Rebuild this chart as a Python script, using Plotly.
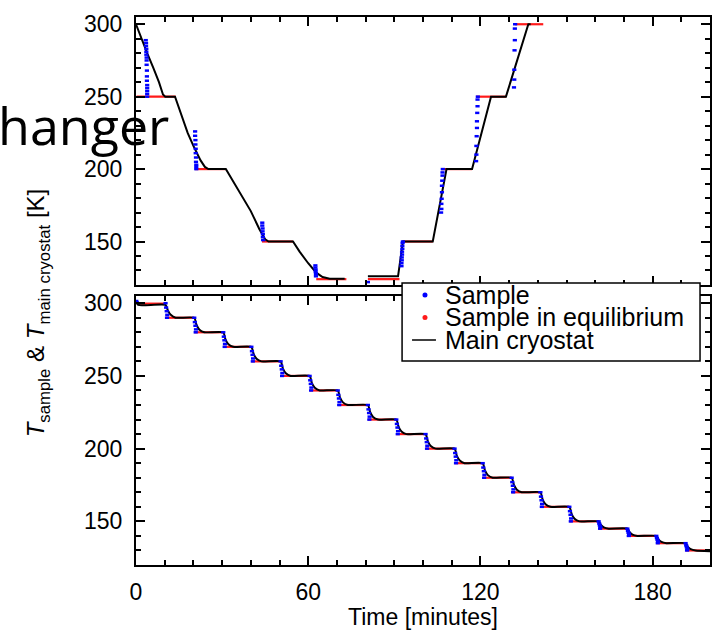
import plotly.graph_objects as go

# ---------------- data ----------------
# Top panel (large 50 K steps, cooling then warming)
top_cryo_time = [0, 2, 4, 6, 8, 9.4, 10.2, 13.6, 16, 18, 20, 22.5, 24.0, 25.2, 31.3, 34, 37, 40, 43, 45.0, 46.2,
                 54.7, 57, 60, 62.8, 65, 67.5, 72.7, None,
                 80.8, 91.3, 93.0, 103.4, 108.2, 117.1, 123.7, 128.9, 136.7, 137.5]
top_cryo_temp = [300, 289, 279.5, 270, 260, 251.5, 250, 250, 236, 225, 216, 206, 201.5, 200, 200, 191, 181, 171, 158.5, 151.5, 150,
                 150, 143, 135, 128.5, 125.5, 124.3, 124.3, None,
                 126, 126, 150, 150, 200, 200, 250, 250, 300, 300]

top_eq_start = [0.2, 20.5, 43.9, 62.8, 80.8, 93.0, 106.3, 118.5, 132.1]
top_eq_end = [13.8, 31.3, 54.7, 73.3, 91.8, 103.4, 117.1, 128.9, 141.9]
top_eq_level = [250, 200, 150, 124, 124, 150, 200, 250, 300]

top_sample_time = [3.4, 3.5, 3.5, 3.6, 3.6, 3.6, 3.7, 3.7, 3.7, 3.8, 3.8, 3.8, 3.9, 3.9, 3.9, 3.9, 3.9,
                   20.6, 20.6, 20.7, 20.7, 20.8, 20.8, 20.9, 20.9, 21.0, 21.0, 21.0,
                   44.0, 44.0, 44.1, 44.1, 44.2, 44.2, 44.3,
                   62.5, 62.5, 62.6, 62.6, 62.7, 62.7,
                   80.8,
                   92.5, 92.5, 92.6, 92.6, 92.7, 92.7, 92.8, 92.8, 92.9, 93.0,
                   106.3, 106.4, 106.4, 106.5, 106.6, 106.6, 106.7, 106.8, 106.8, 106.9,
                   118.5, 118.6, 118.6, 118.7, 118.8, 118.8, 118.9, 119.0, 119.0, 119.1,
                   131.7, 131.8, 131.8, 131.9, 132.0, 132.0, 132.1]
top_sample_temp = [289, 287, 285, 283, 281, 279, 277, 275, 272, 268, 264, 261, 258, 256, 254, 252, 250,
                   226, 223, 220, 217, 214, 211, 208, 205, 203, 201.5, 200,
                   163, 161, 159, 157, 155, 153, 151,
                   133.5, 132, 130.5, 129, 127.5, 126,
                   122,
                   133, 135, 137, 139, 141, 143, 145, 147, 149, 150,
                   170, 172.5, 176, 179.5, 184, 188.5, 192, 195.5, 197.7, 200,
                   205.5, 210, 216, 222.7, 228.4, 233, 238.8, 243.4, 248, 250,
                   256.4, 261.8, 268.6, 282, 289, 297, 300]

# Bottom panel (small 10 K / 5 K steps, cooling)
bot_cryo_time = [0, 0.8,
                 10.3, 11.1, 12.1, 13.8,
                 20.3, 21.1, 22.1, 23.8,
                 30.4, 31.2, 32.2, 33.9,
                 40.2, 41.0, 42.0, 43.7,
                 50.4, 51.2, 52.2, 53.9,
                 60.5, 61.3, 62.3, 64.0,
                 70.3, 71.1, 72.1, 73.8,
                 80.8, 81.6, 82.6, 84.3,
                 90.7, 91.5, 92.5, 94.2,
                 100.9, 101.7, 102.7, 104.4,
                 111.0, 111.8, 112.8, 114.5,
                 120.8, 121.6, 122.6, 124.3,
                 130.9, 131.7, 132.7, 134.4,
                 140.9, 141.7, 142.7, 144.4,
                 151.0, 151.8, 152.8, 154.5,
                 161.2, 162.0, 163.0, 164.7,
                 171.2, 172.0, 173.0, 174.7,
                 181.3, 182.1, 183.1, 184.8,
                 191.5, 192.3, 193.3, 195.0,
                 200]
bot_cryo_temp = [301, 298.8,
                 298.8, 295, 292, 290,
                 290, 285, 281.8, 280,
                 280, 275, 271.8, 270,
                 270, 265, 261.8, 260,
                 260, 255, 251.8, 250,
                 250, 245, 241.8, 240,
                 240, 235, 231.8, 230,
                 230, 225, 221.8, 220,
                 220, 215, 211.8, 210,
                 210, 205, 201.8, 200,
                 200, 195, 191.8, 190,
                 190, 185, 181.8, 180,
                 180, 175, 171.8, 170,
                 170, 165, 161.8, 160,
                 160, 155, 151.8, 150,
                 150, 147.5, 145.9, 145,
                 145, 142.5, 140.9, 140,
                 140, 137.5, 135.9, 135,
                 135, 132.5, 130.9, 130,
                 129.5]

bot_eq_start = [0.5, 10.3, 20.3, 30.4, 40.2, 50.4, 60.5, 70.3, 80.8, 90.7, 100.9, 111.0,
                120.8, 130.9, 140.9, 151.0, 161.2, 171.2, 181.3, 191.5]
bot_eq_end = [10.3, 20.3, 30.4, 40.2, 50.4, 60.5, 70.3, 80.8, 90.7, 100.9, 111.0, 120.8,
              130.9, 140.9, 151.0, 161.2, 171.2, 181.3, 191.5, 200]
bot_eq_level = [299.7, 290, 280, 270, 260, 250, 240, 230, 220, 210, 200, 190,
                180, 170, 160, 150, 145, 140, 135, 130]

bot_sample_time = [0.1, 0.3,
                   10.3, 10.5, 10.7, 10.9, 10.8,
                   20.3, 20.5, 20.7, 20.9, 20.8,
                   30.4, 30.6, 30.8, 31.0, 30.9,
                   40.2, 40.4, 40.6, 40.8, 40.7,
                   50.4, 50.6, 50.8, 51.0, 50.9,
                   60.5, 60.7, 60.9, 61.1, 61.0,
                   70.3, 70.5, 70.7, 70.9, 70.8,
                   80.8, 81.0, 81.2, 81.4, 81.3,
                   90.7, 90.9, 91.1, 91.3, 91.2,
                   100.9, 101.1, 101.3, 101.5, 101.4,
                   111.0, 111.2, 111.4, 111.6, 111.5,
                   120.8, 121.0, 121.2, 121.4, 121.3,
                   130.9, 131.1, 131.3, 131.5, 131.4,
                   140.9, 141.1, 141.3, 141.5, 141.4,
                   151.0, 151.2, 151.4, 151.6, 151.5,
                   161.2, 161.4, 161.6, 161.8, 161.7,
                   171.2, 171.4, 171.6, 171.8, 171.7,
                   181.3, 181.5, 181.7, 181.9, 181.8,
                   191.5, 191.7, 191.9, 192.1, 192.0]
bot_sample_temp = [301.5, 300.5,
                   300, 297, 294.5, 292, 290,
                   290, 287, 284.5, 282, 280,
                   280, 277, 274.5, 272, 270,
                   270, 267, 264.5, 262, 260,
                   260, 257, 254.5, 252, 250,
                   250, 247, 244.5, 242, 240,
                   240, 237, 234.5, 232, 230,
                   230, 227, 224.5, 222, 220,
                   220, 217, 214.5, 212, 210,
                   210, 207, 204.5, 202, 200,
                   200, 197, 194.5, 192, 190,
                   190, 187, 184.5, 182, 180,
                   180, 177, 174.5, 172, 170,
                   170, 167, 164.5, 162, 160,
                   160, 157, 154.5, 152, 150,
                   150, 148.5, 147.2, 146, 145,
                   145, 143.5, 142.2, 141, 140,
                   140, 138.5, 137.2, 136, 135,
                   135, 133.5, 132.2, 131, 130]

x_tick_vals = [0, 60, 120, 180]
y_tick_vals = [150, 200, 250, 300]
legend_labels = ["Sample", "Sample in equilibrium", "Main cryostat"]


def segments(starts, ends, levels):
    xs, ys = [], []
    for s, e, l in zip(starts, ends, levels):
        xs += [s, e, None]
        ys += [l, l, None]
    return xs, ys


BLUE = "#0000ff"
RED = "#ff1a1a"
FONT = "Liberation Sans, Arial, Helvetica, sans-serif"

fig = go.Figure()

for (ct, cT, es, ee, el, st, sT, xa, ya, shp) in [
    (top_cryo_time, top_cryo_temp, top_eq_start, top_eq_end, top_eq_level,
     top_sample_time, top_sample_temp, "x", "y", "linear"),
    (bot_cryo_time, bot_cryo_temp, bot_eq_start, bot_eq_end, bot_eq_level,
     bot_sample_time, bot_sample_temp, "x2", "y2", "spline"),
]:
    ex, ey = segments(es, ee, el)
    fig.add_trace(go.Scatter(x=ex, y=ey, mode="lines", line=dict(color=RED, width=2.2),
                             name=legend_labels[1], showlegend=False, xaxis=xa, yaxis=ya))
    fig.add_trace(go.Scatter(x=ct, y=cT, mode="lines",
                             line=dict(color="black", width=2, shape=shp, smoothing=0.5),
                             name=legend_labels[2], showlegend=False, connectgaps=False, xaxis=xa, yaxis=ya))
    fig.add_trace(go.Scatter(x=st, y=sT, mode="markers",
                             marker=dict(symbol="line-ew", size=3, color=BLUE, line=dict(width=2.5, color=BLUE)),
                             name=legend_labels[0], showlegend=False, xaxis=xa, yaxis=ya))

common_x = dict(range=[0, 200], showgrid=False, zeroline=False, showline=True, linecolor="black",
                linewidth=2, mirror="ticks", ticks="inside", ticklen=9, tickwidth=1.5, tickcolor="black",
                tickvals=x_tick_vals,
                minor=dict(dtick=10, tick0=0, ticks="inside", ticklen=5, tickwidth=1.5, tickcolor="black"))
common_y = dict(range=[120, 305], showgrid=False, zeroline=False, showline=True, linecolor="black",
                linewidth=2, mirror="ticks", ticks="inside", ticklen=9, tickwidth=1.5, tickcolor="black",
                tickvals=y_tick_vals, tickfont=dict(size=23, color="black", family=FONT),
                ticklabelstandoff=7,
                minor=dict(dtick=10, tick0=0, ticks="inside", ticklen=5, tickwidth=1.5, tickcolor="black"))

fig.update_layout(
    width=713, height=630,
    margin=dict(l=136, r=1, t=17, b=65),
    plot_bgcolor="white", paper_bgcolor="white",
    font=dict(family=FONT, color="black"),
    showlegend=False,
    xaxis=dict(common_x, domain=[0, 1], anchor="y", showticklabels=False, matches="x2"),
    xaxis2=dict(common_x, domain=[0, 1], anchor="y2", showticklabels=True,
                tickfont=dict(size=23, color="black", family=FONT), ticklabelstandoff=5,
                title=dict(text="Time [minutes]", font=dict(size=23, color="black", family=FONT), standoff=3)),
    yaxis=dict(common_y, domain=[0.511, 1], anchor="x"),
    yaxis2=dict(common_y, domain=[0, 0.491], anchor="x2"),
)

# y-axis title spanning both panels
fig.add_annotation(xref="paper", yref="paper", x=-0.170, y=0.460, textangle=-90,
                   text="<i>T</i><sub>sample</sub> & <i>T</i><sub>main cryostat</sub> [K]",
                   showarrow=False, xanchor="center", yanchor="middle",
                   font=dict(size=24, color="black", family=FONT))


def px_x(px):
    return (px - 136) / 576


def px_y(py):
    return (565 - py) / 548


# legend box (drawn above the panels)
fig.add_shape(type="rect", xref="paper", yref="paper", x0=px_x(403), x1=px_x(702), y0=px_y(361), y1=px_y(283),
              line=dict(color="black", width=1.5), fillcolor="white", layer="above")
row_y = [295, 317.5, 340]
for i, lab in enumerate(legend_labels):
    fig.add_annotation(xref="paper", yref="paper", x=px_x(444), y=px_y(row_y[i]), text=lab, showarrow=False,
                       xanchor="left", yanchor="middle", font=dict(size=25, color="black", family=FONT))
for i, col in enumerate([BLUE, RED]):
    fig.add_shape(type="circle", xref="paper", yref="paper", xsizemode="pixel", ysizemode="pixel",
                  xanchor=px_x(426), yanchor=px_y(row_y[i]), x0=-2.5, x1=2.5, y0=-2.5, y1=2.5,
                  fillcolor=col, line=dict(width=0), layer="above")
fig.add_shape(type="line", xref="paper", yref="paper", x0=px_x(413), x1=px_x(437),
              y0=px_y(row_y[2]), y1=px_y(row_y[2]), line=dict(color="black", width=1.5), layer="above")

# slide title fragment overlapping the chart
fig.add_annotation(xref="paper", yref="paper", x=px_x(-4), y=px_y(124), text="hanger", showarrow=False,
                   xanchor="left", yanchor="middle", font=dict(size=52, color="black", family="Open Sans"))

fig.write_html("out.html", post_script="document.body.style.margin='0';",
               config={"displayModeBar": False})
